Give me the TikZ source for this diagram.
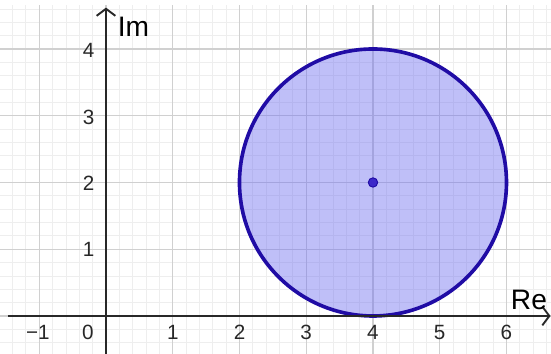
\documentclass[tikz,border=0pt]{standalone}
\usepackage{fontspec}
\setmainfont{Liberation Sans}
\usetikzlibrary{arrows.meta}
\definecolor{minorgrid}{RGB}{238,238,238}
\definecolor{majorgrid}{RGB}{208,208,208}
\definecolor{axiscol}{RGB}{40,40,40}
\definecolor{circstroke}{RGB}{32,12,165}
\definecolor{circfill}{RGB}{110,110,240}
\definecolor{dotcol}{RGB}{60,40,200}
\tikzset{
  axisline/.style={draw=axiscol, line width=0.85pt, -{Straight Barb[length=3pt,width=8pt,line width=0.8pt]}},
  ticklab/.style={font=\fontsize{8.8}{10}\selectfont, text=axiscol, inner sep=0pt},
  axislab/.style={font=\fontsize{12}{14}\selectfont, text=black, inner sep=0pt},
}
\begin{document}
\begin{tikzpicture}[x=1cm,y=1cm]
\useasboundingbox (-1.588,-0.569) rectangle (6.667,4.734);
\fill[white] (-1.588,-0.569) rectangle (6.667,4.734);
% grid
\draw[minorgrid, line width=0.35pt, step=0.2] (-1.588,-0.569) grid (6.667,4.66);
\draw[majorgrid, line width=0.45pt, step=1] (-1.588,-0.569) grid (6.667,4.66);
% disc
\fill[circfill, fill opacity=0.44] (4,2) circle[radius=2];
\draw[circstroke, line width=1.55pt] (4,2) circle[radius=2];
\node[circle, fill=dotcol, draw=circstroke, line width=0.4pt, inner sep=0pt, minimum size=4pt] (c) at (4,2) {};
% axes
\coordinate (xs) at (-1.47,0);
\coordinate (xe) at (6.66,0);
\coordinate (ys) at (0,-0.569);
\coordinate (ye) at (0,4.62);
\draw[axisline] (xs) -- (xe);
\draw[axisline] (ys) -- (ye);
% axis labels
\node[axislab, anchor=south west] (re) at (6.06,0.08) {Re};
\node[axislab, anchor=north west] (im) at (0.17,4.48) {Im};
% tick labels
\node[ticklab] (xm1) at (-1.02,-0.245) {−1};
\node[ticklab] (x0) at (-0.27,-0.245) {0};
\node[ticklab] (x1) at (1,-0.245) {1};
\node[ticklab] (x2) at (2,-0.245) {2};
\node[ticklab] (x3) at (3,-0.245) {3};
\node[ticklab] (x4) at (4,-0.245) {4};
\node[ticklab] (x5) at (5,-0.245) {5};
\node[ticklab] (x6) at (6,-0.245) {6};
\node[ticklab] (y1) at (-0.26,0.99) {1};
\node[ticklab] (y2) at (-0.26,1.99) {2};
\node[ticklab] (y3) at (-0.26,2.97) {3};
\node[ticklab] (y4) at (-0.26,3.98) {4};
\end{tikzpicture}
\end{document}
